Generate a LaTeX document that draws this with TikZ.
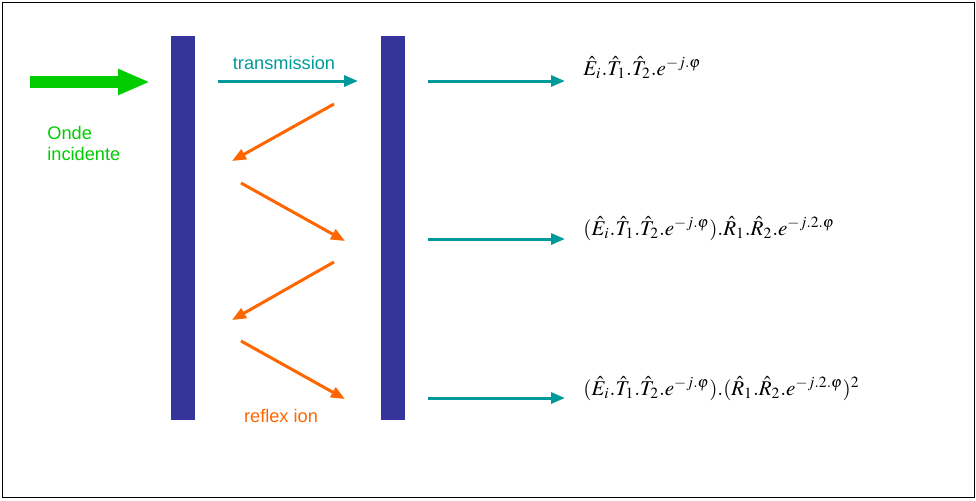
\documentclass[tikz,border=0pt]{standalone}
\usepackage{mathptmx}
\usepackage{fontspec}
\newfontfamily\arialfont{Liberation Sans}
\usetikzlibrary{arrows.meta}
\definecolor{plate}{HTML}{333399}
\definecolor{wavegreen}{HTML}{00CC00}
\definecolor{transteal}{HTML}{009999}
\definecolor{reflorange}{HTML}{FF6600}
\tikzset{
  plaque/.style={fill=plate, draw=none, minimum width=12pt, minimum height=192pt, inner sep=0pt},
  trans/.style={transteal, line width=1.5pt, -{Triangle[length=7pt,width=5.5pt]}},
  refl/.style={reflorange, line width=1.5pt, -{Triangle[length=7pt,width=5.5pt]}},
  formule/.style={anchor=base west, inner sep=0pt, font=\fontsize{10.5}{13}\selectfont},
  legende/.style={font=\arialfont\fontsize{9.1}{10.5}\selectfont, inner sep=0pt}
}
\begin{document}
\begin{tikzpicture}[x=0.5pt, y=-0.5pt]
    % Frame
    \useasboundingbox (0,0) rectangle (976,500);
    \draw[line width=0.5pt] (2,2) rectangle (974,497);

    % Plates
    \node[plaque] (p1) at (183,228) {};
    \node[plaque] (p2) at (393,228) {};

    % Incident wave
    \coordinate (g0) at (30,82);
    \coordinate (g1) at (150,82);
    \draw[wavegreen, line width=6pt, -{Triangle[length=16pt,width=12pt]}] (g0) -- (g1);
    \node[legende, wavegreen, anchor=base west, align=left] (onde) at (47,160) {Onde\\incidente};

    % Transmission between plates
    \coordinate (a0) at (218,81);
    \coordinate (a1) at (358,81);
    \draw[trans] (a0) -- (a1);
    \node[legende, transteal, anchor=base] (tlabel) at (284,69) {transmission};

    % Reflections
    \coordinate (r0) at (334,104);  \coordinate (r1) at (232,161);
    \coordinate (r2) at (241,183);  \coordinate (r3) at (345,241);
    \coordinate (r4) at (334,262);  \coordinate (r5) at (232,320);
    \coordinate (r6) at (241,341);  \coordinate (r7) at (345,399);
    \draw[refl] (r0) -- (r1);
    \draw[refl] (r2) -- (r3);
    \draw[refl] (r4) -- (r5);
    \draw[refl] (r6) -- (r7);
    \node[legende, reflorange, anchor=base] (rlabel) at (281,422) {reflex ion};

    % Transmitted waves
    \foreach \y/\n in {81/1, 239/2, 398/3} {
        \coordinate (s\n) at (428,\y);
        \coordinate (e\n) at (565,\y);
        \draw[trans] (s\n) -- (e\n);
    }

    % Results
    \node[formule] (f1) at (583,75) {$\hat{E}_i.\hat{T}_1.\hat{T}_2.e^{-j.\varphi}$};
    \node[formule] (f2) at (583,235) {$(\hat{E}_i.\hat{T}_1.\hat{T}_2.e^{-j.\varphi}).\hat{R}_1.\hat{R}_2.e^{-j.2.\varphi}$};
    \node[formule] (f3) at (583,395) {$(\hat{E}_i.\hat{T}_1.\hat{T}_2.e^{-j.\varphi}).(\hat{R}_1.\hat{R}_2.e^{-j.2.\varphi})^2$};
\end{tikzpicture}
\end{document}
